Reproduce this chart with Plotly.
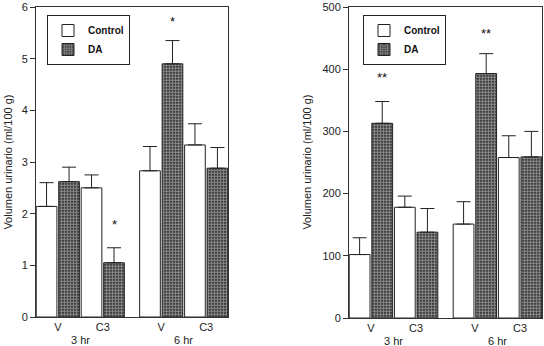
import plotly.graph_objects as go

# ---- data ----
time_groups = ["3 hr", "6 hr"]
treatments = ["V", "C3", "V", "C3"]
series_names = ["Control", "DA"]

left_control = [2.14, 2.50, 2.83, 3.33]
left_control_err = [0.46, 0.25, 0.47, 0.41]
left_da = [2.62, 1.05, 4.90, 2.88]
left_da_err = [0.28, 0.29, 0.45, 0.40]
left_stars = ["", "*", "*", ""]
left_star_y = [None, 1.80, 5.72, None]

right_control = [102, 178, 151, 258]
right_control_err = [27, 18, 36, 35]
right_da = [313, 138, 393, 259]
right_da_err = [35, 38, 32, 41]
right_stars = ["**", "", "**", ""]
right_star_y = [386, None, 458, None]

y_title = "Volumen urinario (ml/100 g)"

# ---- layout positions (bar slots) ----
ctrl_x = [0, 2, 4.6, 6.6]
da_x = [1, 3, 5.6, 7.6]
pair_x = [(a + b) / 2 for a, b in zip(ctrl_x, da_x)]
group_x = [(pair_x[0] + pair_x[1]) / 2, (pair_x[2] + pair_x[3]) / 2]

FONT = "Liberation Sans, Arial, sans-serif"
TXT = "#222"
BW = 0.92

fig = go.Figure()

def add_panel(xa, ya, legend, ctrl, ctrl_err, da, da_err):
    fig.add_trace(go.Bar(
        x=ctrl_x, y=ctrl, width=BW, name=series_names[0],
        xaxis=xa, yaxis=ya, legend=legend,
        marker=dict(color="white", line=dict(color="#222", width=1)),
        error_y=dict(type="data", array=ctrl_err, arrayminus=[0]*4, symmetric=False,
                     color="#222", thickness=1, width=7),
    ))
    fig.add_trace(go.Bar(
        x=da_x, y=da, width=BW, name=series_names[1],
        xaxis=xa, yaxis=ya, legend=legend,
        marker=dict(color="#111", line=dict(color="#222", width=1),
                    pattern=dict(shape=".", fgcolor="white", bgcolor="#111",
                                 size=3, solidity=0.7)),
        error_y=dict(type="data", array=da_err, arrayminus=[0]*4, symmetric=False,
                     color="#222", thickness=1, width=7),
    ))

add_panel("x", "y", "legend", left_control, left_control_err, left_da, left_da_err)
add_panel("x2", "y2", "legend2", right_control, right_control_err, right_da, right_da_err)

annotations = []
for xr, yr, stars, sy in [("x", "y", left_stars, left_star_y), ("x2", "y2", right_stars, right_star_y)]:
    for xi, s, yv in zip(da_x, stars, sy):
        if s:
            annotations.append(dict(x=xi, y=yv, xref=xr, yref=yr, text=s, showarrow=False,
                                    font=dict(family=FONT, size=13, color="#111")))
    for gx, g in zip(group_x, time_groups):
        annotations.append(dict(x=gx, y=0, xref=xr, yref=yr + " domain",
                                text=g, showarrow=False, yanchor="top", yshift=-15,
                                font=dict(family=FONT, size=11, color=TXT)))

for tx in [8/544, 307/544]:
    annotations.append(dict(x=tx, y=0.53, xref="paper", yref="paper", text=y_title, textangle=-90,
                            xanchor="center", yanchor="middle", showarrow=False,
                            font=dict(family=FONT, size=11, color=TXT)))

xcommon = dict(range=[-0.47, 8.07], tickvals=pair_x, ticktext=treatments, ticks="",
               showline=True, linecolor="#333", linewidth=1, mirror=True, showgrid=False,
               zeroline=False, automargin=False, tickfont=dict(family=FONT, size=11, color=TXT))
ycommon = dict(ticks="outside", ticklen=5, tickcolor="#333", showline=True, linecolor="#333",
               linewidth=1, mirror=True, showgrid=False, zeroline=False, automargin=False,
               tickfont=dict(family=FONT, size=11, color=TXT))

legcommon = dict(bgcolor="white", bordercolor="#222", borderwidth=1,
                 font=dict(family=FONT, size=10, color="#111", weight="bold"),
                 xanchor="left", yanchor="top", tracegroupgap=0, itemwidth=30)

fig.update_layout(
    width=544, height=346,
    margin=dict(l=0, r=0, t=0, b=0, pad=0, autoexpand=False),
    paper_bgcolor="white", plot_bgcolor="white",
    barmode="overlay",
    xaxis=dict(domain=[36/544, 228/544], anchor="y", **xcommon),
    yaxis=dict(domain=[29/346, 339/346], anchor="x", range=[0, 6], dtick=1, **ycommon),
    xaxis2=dict(domain=[349/544, 542/544], anchor="y2", **xcommon),
    yaxis2=dict(domain=[28/346, 339/346], anchor="x2", range=[0, 500], dtick=100, **ycommon),
    legend=dict(x=47/544, y=1 - 15/346, **legcommon),
    legend2=dict(x=363/544, y=1 - 15/346, **legcommon),
    annotations=annotations,
    showlegend=True,
)

fig.write_html("out.html", config={"displayModeBar": False, "responsive": False},
               post_script="document.body.style.margin='0';document.body.style.overflow='hidden';")
